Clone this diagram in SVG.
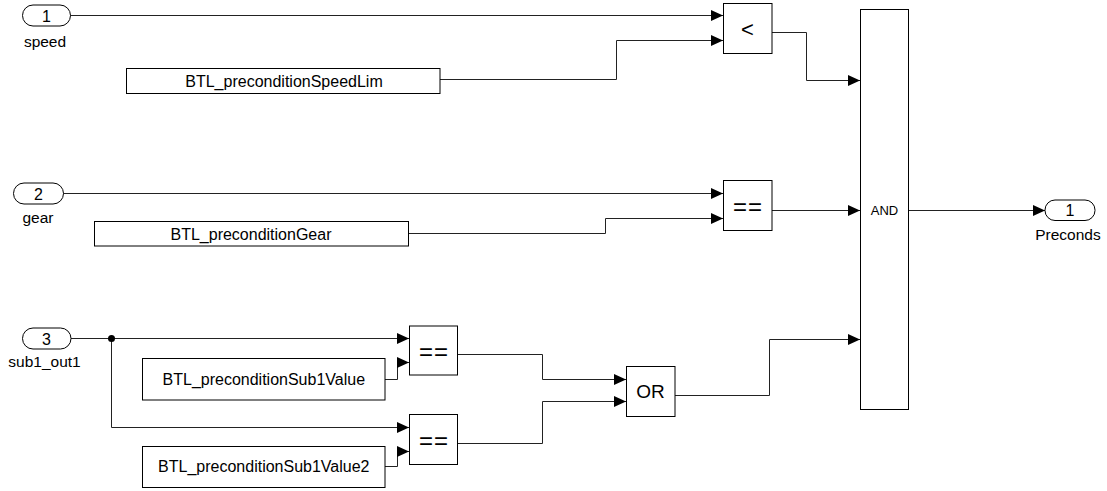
<svg xmlns="http://www.w3.org/2000/svg" width="1107" height="491" viewBox="0 0 1107 491">
<style>
.blk{fill:#fff;stroke:#000;stroke-width:1}
.ln{fill:none;stroke:#222;stroke-width:1}
text{font-family:"Liberation Sans",Arial,sans-serif;fill:#000}
.lbl{font-size:15.5px;text-anchor:middle}
.num{font-size:16px;text-anchor:middle}
.cst{font-size:16px;text-anchor:middle}
.op{text-anchor:middle}
.eq{font-size:24px;letter-spacing:1px}
</style>
<defs>
<marker id="ar" markerWidth="12" markerHeight="12" refX="12" refY="6" orient="auto" markerUnits="userSpaceOnUse">
<path d="M0,0.5 L12,6 L0,11.5 z" fill="#000"/>
</marker>
</defs>
<rect width="1107" height="491" fill="#fff"/>
<g id="connectors">
<path class="ln" marker-end="url(#ar)" d="M70,15.5 H723"/>
<path class="ln" marker-end="url(#ar)" d="M440,79.5 H616.5 V40.5 H723"/>
<path class="ln" marker-end="url(#ar)" d="M772,32.5 H806.5 V80.5 H860"/>
<path class="ln" marker-end="url(#ar)" d="M63,193.5 H723"/>
<path class="ln" marker-end="url(#ar)" d="M408.5,233.5 H605.5 V218.5 H723"/>
<path class="ln" marker-end="url(#ar)" d="M772,210.5 H860"/>
<path class="ln" marker-end="url(#ar)" d="M908.5,210.5 H1045"/>
<path class="ln" marker-end="url(#ar)" d="M71,338.5 H409"/>
<path class="ln" marker-end="url(#ar)" d="M111.5,338.5 V427.5 H409"/>
<circle cx="111.5" cy="338.5" r="3.5" fill="#000"/>
<path class="ln" marker-end="url(#ar)" d="M385,379.5 H397.5 V362.5 H409"/>
<path class="ln" marker-end="url(#ar)" d="M385,466.5 H397.5 V451.5 H409"/>
<path class="ln" marker-end="url(#ar)" d="M457.5,354.5 H542.5 V379.5 H626"/>
<path class="ln" marker-end="url(#ar)" d="M457.5,443.5 H542.5 V401.5 H626"/>
<path class="ln" marker-end="url(#ar)" d="M675,395.5 H769.5 V339.5 H860"/>
</g>
<g id="in_speed">
<rect class="blk" x="22.5" y="5" width="48" height="21" rx="10.5"/>
<text class="num" x="46.5" y="21.5">1</text>
<text class="lbl" x="45" y="47">speed</text>
</g>
<g id="in_gear">
<rect class="blk" x="13.5" y="183" width="50" height="21" rx="10.5"/>
<text class="num" x="38.5" y="199.5">2</text>
<text class="lbl" x="38" y="223">gear</text>
</g>
<g id="in_sub1">
<rect class="blk" x="22.5" y="328" width="48.5" height="21" rx="10.5"/>
<text class="num" x="46.5" y="344.5">3</text>
<text class="lbl" x="44.5" y="366.5">sub1_out1</text>
</g>
<g id="const_speed">
<rect class="blk" x="126.5" y="68.5" width="313.5" height="25"/>
<text class="cst" x="284" y="86.5">BTL_preconditionSpeedLim</text>
</g>
<g id="const_gear">
<rect class="blk" x="94.5" y="221.5" width="314" height="24.5"/>
<text class="cst" x="251" y="239.5">BTL_preconditionGear</text>
</g>
<g id="const_sub1">
<rect class="blk" x="142.5" y="358.5" width="242.5" height="41.5"/>
<text class="cst" x="263.8" y="385">BTL_preconditionSub1Value</text>
</g>
<g id="const_sub1b">
<rect class="blk" x="142.5" y="446.5" width="242.5" height="41"/>
<text class="cst" x="263.8" y="472">BTL_preconditionSub1Value2</text>
</g>
<g id="cmp_lt">
<rect class="blk" x="723.5" y="3.5" width="48.5" height="50"/>
<text class="op" x="747.5" y="37" font-size="22">&lt;</text>
</g>
<g id="cmp_gear">
<rect class="blk" x="723.5" y="180.5" width="48.5" height="50"/>
<text class="op eq" x="748" y="214.5">==</text>
</g>
<g id="cmp_sub1">
<rect class="blk" x="409.5" y="326" width="48" height="49"/>
<text class="op eq" x="434" y="360">==</text>
</g>
<g id="cmp_sub1b">
<rect class="blk" x="409.5" y="414.5" width="48" height="50"/>
<text class="op eq" x="434" y="448.5">==</text>
</g>
<g id="or_blk">
<rect class="blk" x="626.5" y="366.5" width="48.5" height="50"/>
<text class="op" x="650.5" y="398" font-size="19">OR</text>
</g>
<g id="and_blk">
<rect class="blk" x="860.5" y="9.5" width="48" height="400"/>
<text class="op" x="884.5" y="215" font-size="13">AND</text>
</g>
<g id="out_preconds">
<rect class="blk" x="1045" y="200" width="50" height="20.5" rx="10"/>
<text class="num" x="1070" y="216">1</text>
<text class="lbl" x="1068" y="240">Preconds</text>
</g>
</svg>
